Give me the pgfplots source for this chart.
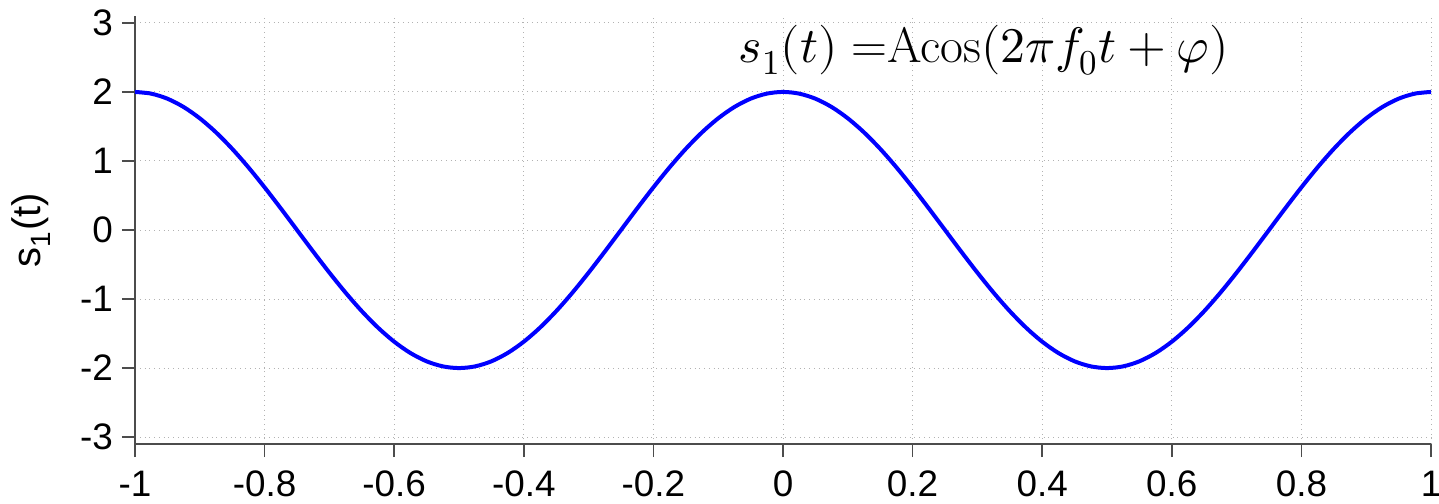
\documentclass[border=0pt]{standalone}
\usepackage{fontspec}
\setmainfont{Liberation Sans}
\usepackage{unicode-math}
\setmathfont{Latin Modern Math}
\newfontfamily\serifrm{Latin Modern Roman}
\usepackage{pgfplots}
\pgfplotsset{compat=1.18}
\usepackage{pgfplotstable}

% s1(t) = 2 cos(2 pi t), sampled every 0.025
\pgfplotstableread{
t s
-1.000 2.0000
-0.975 1.9754
-0.950 1.9021
-0.925 1.7820
-0.900 1.6180
-0.875 1.4142
-0.850 1.1756
-0.825 0.9080
-0.800 0.6180
-0.775 0.3129
-0.750 0.0000
-0.725 -0.3129
-0.700 -0.6180
-0.675 -0.9080
-0.650 -1.1756
-0.625 -1.4142
-0.600 -1.6180
-0.575 -1.7820
-0.550 -1.9021
-0.525 -1.9754
-0.500 -2.0000
-0.475 -1.9754
-0.450 -1.9021
-0.425 -1.7820
-0.400 -1.6180
-0.375 -1.4142
-0.350 -1.1756
-0.325 -0.9080
-0.300 -0.6180
-0.275 -0.3129
-0.250 0.0000
-0.225 0.3129
-0.200 0.6180
-0.175 0.9080
-0.150 1.1756
-0.125 1.4142
-0.100 1.6180
-0.075 1.7820
-0.050 1.9021
-0.025 1.9754
0.000 2.0000
0.025 1.9754
0.050 1.9021
0.075 1.7820
0.100 1.6180
0.125 1.4142
0.150 1.1756
0.175 0.9080
0.200 0.6180
0.225 0.3129
0.250 0.0000
0.275 -0.3129
0.300 -0.6180
0.325 -0.9080
0.350 -1.1756
0.375 -1.4142
0.400 -1.6180
0.425 -1.7820
0.450 -1.9021
0.475 -1.9754
0.500 -2.0000
0.525 -1.9754
0.550 -1.9021
0.575 -1.7820
0.600 -1.6180
0.625 -1.4142
0.650 -1.1756
0.675 -0.9080
0.700 -0.6180
0.725 -0.3129
0.750 0.0000
0.775 0.3129
0.800 0.6180
0.825 0.9080
0.850 1.1756
0.875 1.4142
0.900 1.6180
0.925 1.7820
0.950 1.9021
0.975 1.9754
1.000 2.0000
}\signal

\begin{document}
\begin{tikzpicture}
\begin{axis}[
  at={(0,0)}, anchor=south west,
  scale only axis,
  width=648bp, height=214bp,
  xmin=-1, xmax=1, ymin=-3.1, ymax=3.1,
  xtick={-1,-0.8,...,1},
  ytick={-3,-2,...,3},
  xticklabels={-1,-0.8,-0.6,-0.4,-0.2,0,0.2,0.4,0.6,0.8,1},
  yticklabels={-3,-2,-1,0,1,2,3},
  axis x line*=bottom, axis y line*=left,
  axis line style={black!70, line width=0.8bp, -},
  tick style={black!70, line width=0.8bp},
  tick align=outside,
  major tick length=6.5bp,
  xmajorgrids, ymajorgrids,
  grid style={black!30, dotted, line width=0.5bp},
  ticklabel style={font=\fontsize{18.5}{20}\selectfont},
  xticklabel style={yshift=-3.5bp},
  yticklabel style={xshift=-1bp},
  ylabel={s\textsubscript{1}(t)},
  ylabel style={font=\fontsize{20}{22}\selectfont, yshift=8bp},
  clip=false,
]
\addplot[blue, line width=2bp, smooth] table[x=t, y=s] {\signal};
\node[font=\fontsize{25}{28}\selectfont] at (axis cs:0.31,2.6)
  {$s_1(t)$ {\serifrm =Acos}$(2\pi f_0t+\varphi)$};
\end{axis}
\pgfresetboundingbox
\useasboundingbox (-67.5bp,-30bp) rectangle (652bp,222bp);
\end{tikzpicture}
\end{document}
